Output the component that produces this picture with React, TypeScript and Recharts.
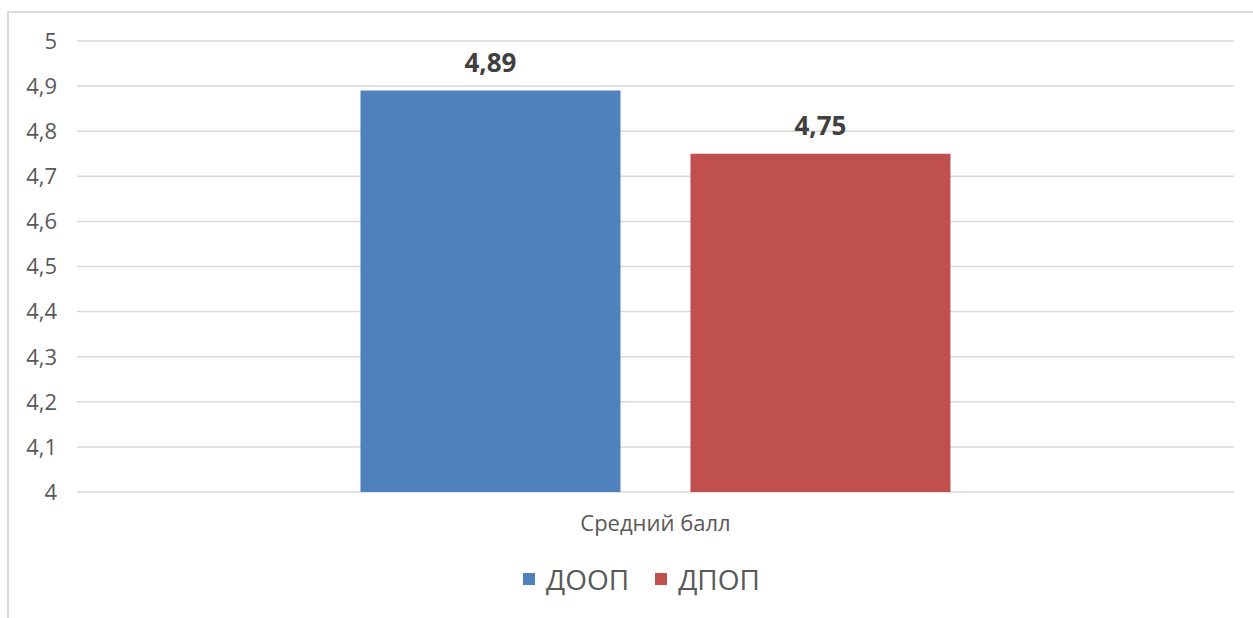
import { BarChart, Bar, XAxis, YAxis, CartesianGrid, Legend, LabelList } from "recharts";

const categories = ["Средний балл"];
const doopValues = [4.89];
const dpopValues = [4.75];
const yTicks = [4, 4.1, 4.2, 4.3, 4.4, 4.5, 4.6, 4.7, 4.8, 4.9, 5];

const seriesList = [
  { key: "doop", name: "ДООП", color: "#4F81BD" },
  { key: "dpop", name: "ДПОП", color: "#C0504D" },
];

const chartData = categories.map((name, i) => ({
  name,
  doop: doopValues[i],
  dpop: dpopValues[i],
}));

const FONT = "'Open Sans', sans-serif";
const TEXT = "#595959";

const comma = (v: number | string) => String(v).replace(".", ",");

const renderLegend = () => (
  <div style={{ display: "flex", justifyContent: "center", alignItems: "center", fontFamily: FONT }}>
    {seriesList.map((s, i) => (
      <div
        key={s.key}
        style={{ display: "flex", alignItems: "center", marginLeft: i === 0 ? 0 : 26 }}
      >
        <span style={{ width: 12, height: 12, background: s.color, display: "inline-block", marginRight: 11 }} />
        <span style={{ fontSize: 28, lineHeight: "28px", color: TEXT }}>{s.name}</span>
      </div>
    ))}
  </div>
);

const App = () => {
  return (
    <div
      style={{
        position: "absolute",
        left: 0,
        top: 0,
        width: 1253,
        height: 618,
        overflow: "hidden",
        background: "#fff",
      }}
    >
      <div
        style={{
          position: "absolute",
          left: 7,
          top: 11,
          width: 1300,
          height: 700,
          border: "2px solid #DADADA",
        }}
      />
      <div style={{ position: "absolute", left: 0, top: 0 }}>
        <BarChart
          width={1253}
          height={618}
          data={chartData}
          barCategoryGap="24.5%"
          barGap={70}
          margin={{ top: 41, right: 19, left: 17, bottom: 0 }}
        >
          <CartesianGrid vertical={false} stroke="#D9D9D9" strokeWidth={1.5} />
          <XAxis
            dataKey="name"
            height={126}
            axisLine={false}
            tickLine={false}
            tickSize={0}
            tickMargin={23}
            tick={{ fill: TEXT, fontSize: 22, fontFamily: FONT }}
          />
          <YAxis
            type="number"
            domain={[4, 5]}
            ticks={yTicks}
            width={60}
            axisLine={false}
            tickLine={false}
            tickSize={0}
            tickMargin={20}
            tickFormatter={comma}
            tick={{ fill: TEXT, fontSize: 22, fontFamily: FONT }}
            allowDataOverflow
          />
          <Legend
            verticalAlign="middle"
            align="center"
            content={renderLegend}
            wrapperStyle={{ top: 565, left: 20, width: 1243, height: 28 }}
          />
          {seriesList.map((s) => (
            <Bar key={s.key} dataKey={s.key} name={s.name} fill={s.color} isAnimationActive={false}>
              <LabelList
                dataKey={s.key}
                position="top"
                offset={19}
                formatter={comma}
                style={{ fill: "#404040", fontSize: 26, fontWeight: 700, fontFamily: FONT }}
              />
            </Bar>
          ))}
        </BarChart>
      </div>
    </div>
  );
};

export default App;
